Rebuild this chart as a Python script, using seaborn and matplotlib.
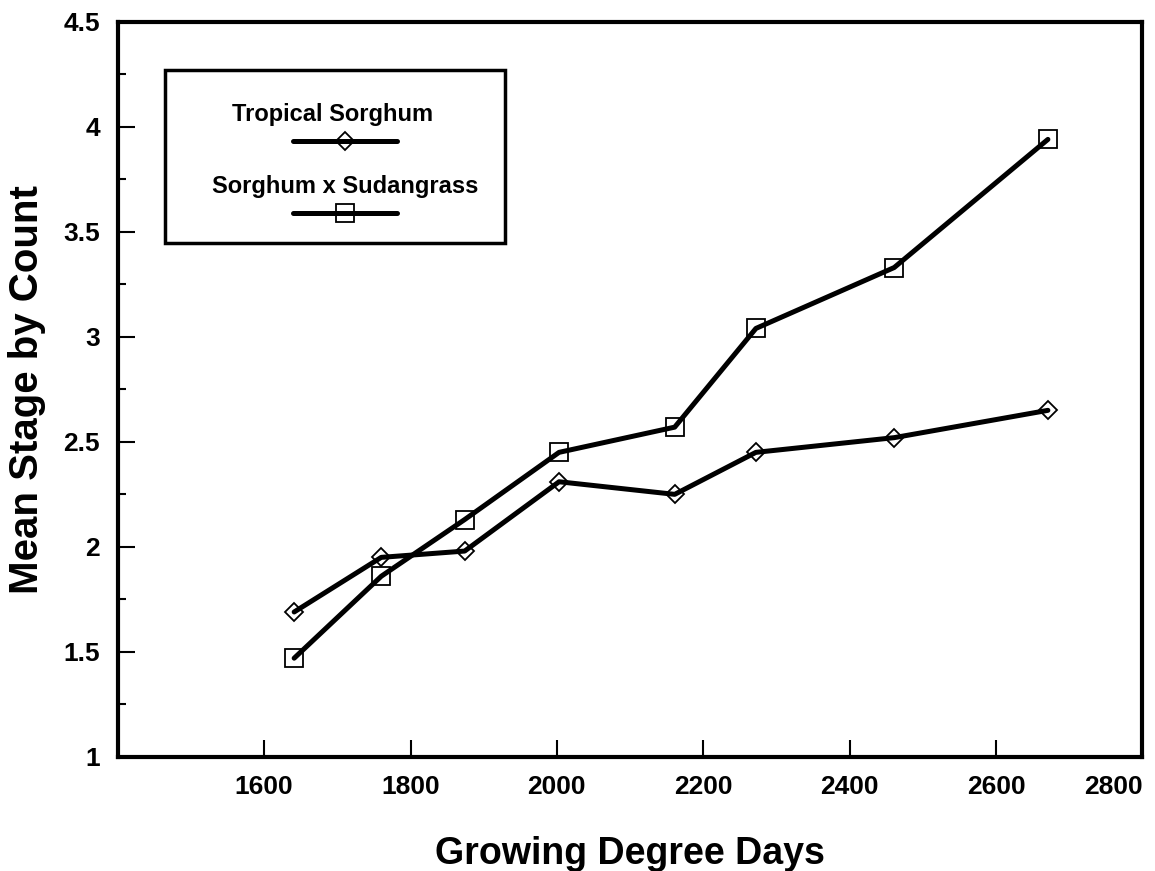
import numpy as np
import pandas as pd
import matplotlib
matplotlib.use("Agg")
import matplotlib.pyplot as plt
from matplotlib.lines import Line2D
from matplotlib.patches import Rectangle
import seaborn as sns

# values
gdd = [1641, 1760, 1874, 2003, 2161, 2272, 2461, 2671]
tropical = [1.69, 1.95, 1.98, 2.31, 2.25, 2.45, 2.52, 2.65]
sudangrass = [1.47, 1.86, 2.13, 2.45, 2.57, 3.04, 3.33, 3.94]
series_names = ["Tropical Sorghum", "Sorghum x Sudangrass"]
x_ticks = [1600, 1800, 2000, 2200, 2400, 2600, 2800]
y_ticks = [1, 1.5, 2, 2.5, 3, 3.5, 4, 4.5]
y_tick_labels = ["1", "1.5", "2", "2.5", "3", "3.5", "4", "4.5"]

df = pd.DataFrame({
    "gdd": gdd * 2,
    "stage": tropical + sudangrass,
    "variety": [series_names[0]] * len(gdd) + [series_names[1]] * len(gdd),
})

sns.set_style("ticks")
plt.rcParams["font.family"] = ["Liberation Sans", "DejaVu Sans"]
plt.rcParams["font.weight"] = "bold"
plt.rcParams["text.color"] = "black"
plt.rcParams["axes.labelcolor"] = "black"
plt.rcParams["xtick.color"] = "black"
plt.rcParams["ytick.color"] = "black"

fig = plt.figure(figsize=(11.55, 8.71), dpi=100)
ax = fig.add_axes([0.102, 0.131, 0.887, 0.844])

sns.lineplot(data=df, x="gdd", y="stage", hue="variety", style="variety",
             palette=["black", "black"], markers={series_names[0]: "D", series_names[1]: "s"},
             dashes=False, linewidth=3.6, markersize=11, markerfacecolor="none",
             markeredgecolor="black", markeredgewidth=1.3, legend=False, ax=ax)
# diamond a bit smaller than square
for line in ax.get_lines():
    if line.get_marker() == "D":
        line.set_markersize(9.5)
    else:
        line.set_markersize(13.5)

ax.set_xlim(1400, 2800)
ax.set_ylim(1, 4.5)
ax.set_xticks(x_ticks)
ax.set_xticklabels([str(t) for t in x_ticks])
ax.set_yticks(y_ticks)
ax.set_yticklabels(y_tick_labels)
ax.set_yticks(np.arange(1.25, 4.5, 0.5), minor=True)
ax.tick_params(axis="both", which="major", direction="in", length=12, width=1.5,
               labelsize=19, pad=13, colors="black")
ax.tick_params(axis="y", which="minor", direction="in", length=6, width=1.5, colors="black")
ax.tick_params(axis="x", which="both", top=False)
ax.tick_params(axis="y", which="both", right=False)
ax.get_xticklabels()[-1].set_horizontalalignment("right")
for spine in ax.spines.values():
    spine.set_linewidth(3)
    spine.set_color("black")

ax.set_xlabel("Growing Degree Days", fontsize=27, fontweight="bold", labelpad=27)
ax.set_ylabel("Mean Stage by Count", fontsize=29, fontweight="bold", labelpad=12)

# legend box: label above each sample line
ax.add_patch(Rectangle((0.046, 0.699), 0.332, 0.236, transform=ax.transAxes,
                       fill=False, edgecolor="black", linewidth=2.5, zorder=5))
ax.text(0.210, 0.874, series_names[0], transform=ax.transAxes, ha="center", va="center",
        fontsize=17, fontweight="bold")
ax.add_line(Line2D([0.171, 0.273], [0.838, 0.838], transform=ax.transAxes,
                   color="black", linewidth=3.6))
ax.add_line(Line2D([0.222], [0.838], transform=ax.transAxes, color="black",
                   marker="D", markersize=9.5, markerfacecolor="none", markeredgewidth=1.3))
ax.text(0.222, 0.776, series_names[1], transform=ax.transAxes, ha="center", va="center",
        fontsize=17, fontweight="bold")
ax.add_line(Line2D([0.171, 0.273], [0.740, 0.740], transform=ax.transAxes,
                   color="black", linewidth=3.6))
ax.add_line(Line2D([0.222], [0.740], transform=ax.transAxes, color="black",
                   marker="s", markersize=13.5, markerfacecolor="none", markeredgewidth=1.3))

fig.savefig("out.png", dpi=100)
